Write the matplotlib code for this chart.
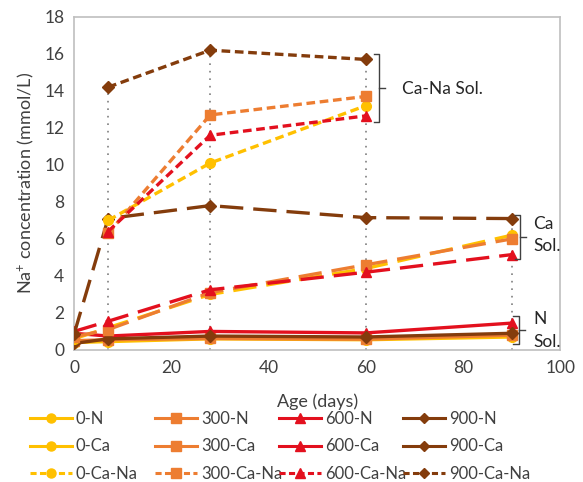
import numpy as np
from matplotlib import pyplot as plt
from matplotlib.lines import Line2D

plt.rcParams['font.family'] = ['Lato', 'DejaVu Sans']
plt.rcParams['mathtext.default'] = 'regular'

days = [0, 7, 28, 60, 90]
nan = np.nan

# N solution
n_0 = [0.40, 0.45, 0.60, 0.55, 0.70]
n_300 = [0.50, 0.55, 0.62, 0.58, 0.80]
n_600 = [0.90, 0.75, 1.00, 0.92, 1.45]
n_900 = [0.35, 0.60, 0.75, 0.70, 0.90]

# Ca solution
ca_0 = [0.60, 1.20, 3.00, 4.40, 6.20]
ca_300 = [0.70, 1.10, 3.10, 4.60, 6.00]
ca_600 = [1.00, 1.55, 3.25, 4.20, 5.15]
ca_900 = [0.85, 7.10, 7.80, 7.15, 7.10]

# Ca-Na solution
cana_0 = [nan, 7.00, 10.10, 13.20, nan]
cana_300 = [nan, 6.30, 12.70, 13.70, nan]
cana_600 = [nan, 6.40, 11.60, 12.65, nan]
cana_900 = [nan, 14.20, 16.20, 15.70, nan]

levels = ['0', '300', '600', '900']
colors = ['#FFC000', '#ED7D31', '#E3101E', '#843C0C']
markers = ['o', 's', '^', 'D']
msizes = [7, 7, 7.5, 6]

groups = [
    ('N', [n_0, n_300, n_600, n_900], '-'),
    ('Ca', [ca_0, ca_300, ca_600, ca_900], (0, (7, 3))),
    ('Ca-Na', [cana_0, cana_300, cana_600, cana_900], (0, (2.6, 1.4))),
]

fig = plt.figure(figsize=(5.83, 4.82), dpi=100)
ax = fig.add_axes([0.127, 0.274, 0.834, 0.691])

# dotted guide lines up to the highest value at each age
allvals = np.array([s for g in groups for s in g[1]], dtype=float)
tops = np.nanmax(allvals, axis=0)
for d, t in zip(days[1:], tops[1:]):
    ax.vlines(d, 0, t, colors='#7F7F7F', linestyles=(0, (1, 3.5)), lw=1.2, zorder=1)

handles = {}
for name, series, ls in groups:
    for lev, s, c, m, ms in zip(levels, series, colors, markers, msizes):
        ax.plot(days, s, color=c, ls=ls, lw=2.4, marker=m, ms=ms, mec=c, mfc=c, zorder=3)
        lls = '-' if name != 'Ca-Na' else (0, (2.0, 1.1))
        handles[(name, lev)] = Line2D([], [], color=c, ls=lls, lw=2.2, marker=m,
                                      ms=ms - 0.5, mec=c, mfc=c, label=lev + '-' + name)

ax.set_xlim(0, 100)
ax.set_ylim(0, 18)
ax.set_xticks(range(0, 101, 20))
ax.set_yticks(range(0, 19, 2))
ax.tick_params(length=0, labelsize=12.5, colors='#404040', pad=7)
for sp in ax.spines.values():
    sp.set_color('#BFBFBF')
    sp.set_linewidth(1.2)
ax.set_xlabel('Age (days)', fontsize=13, color='#404040', labelpad=13)
ax.set_ylabel('Na$^{+}$ concentration (mmol/L)', fontsize=13, color='#404040', labelpad=6)


def brace(x, y0, y1, w=1.2):
    ym = (y0 + y1) / 2
    ax.plot([x - w, x, x, x - w], [y1, y1, y0, y0], color='#404040', lw=1, clip_on=False, zorder=4)
    ax.plot([x, x + w], [ym, ym], color='#404040', lw=1, clip_on=False, zorder=4)


brace(62.8, 12.3, 16.0)
ax.text(67.5, 14.1, 'Ca-Na Sol.', fontsize=12.5, color='#262626', va='center')
brace(91.8, 4.9, 7.3)
ax.text(94.5, 6.8, 'Ca', fontsize=12.5, color='#262626', va='center')
ax.text(94.5, 5.6, 'Sol.', fontsize=12.5, color='#262626', va='center')
brace(91.5, 0.32, 1.85)
ax.text(94.5, 1.65, 'N', fontsize=12.5, color='#262626', va='center')
ax.text(94.5, 0.45, 'Sol.', fontsize=12.5, color='#262626', va='center')

# one legend column per level, evenly spaced like the original
col_x = [30, 155, 279, 403]
for lev, x0 in zip(levels, col_x):
    hs = [handles[(g, lev)] for g in ['N', 'Ca', 'Ca-Na']]
    leg = fig.legend(hs, [h.get_label() for h in hs], loc='upper left',
                     bbox_to_anchor=(x0 / 583, 1 - 411 / 482), borderaxespad=0,
                     borderpad=0, frameon=False, fontsize=12, handlelength=2.5,
                     handletextpad=0.25, labelspacing=0.68, labelcolor='#404040')

fig.savefig('out.png', dpi=100)
